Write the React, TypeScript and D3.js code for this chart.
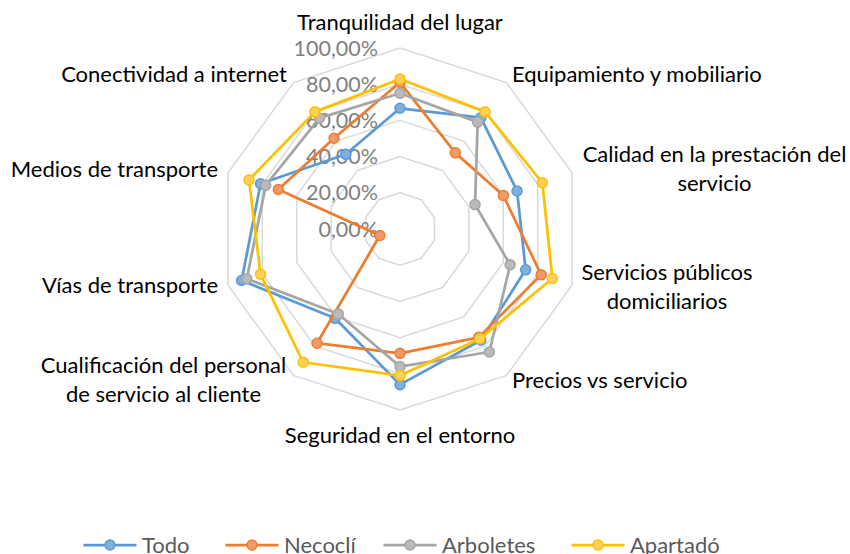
import React from "react";
import * as d3 from "d3";

const categories = [
  "Tranquilidad del lugar",
  "Equipamiento y mobiliario",
  "Calidad en la prestación del servicio",
  "Servicios públicos domiciliarios",
  "Precios vs servicio",
  "Seguridad en el entorno",
  "Cualificación del personal de servicio al cliente",
  "Vías de transporte",
  "Medios de transporte",
  "Conectividad a internet",
];

const seriesNames = ["Todo", "Necoclí", "Arboletes", "Apartadó"];
const todo = [0.667, 0.76, 0.68, 0.73, 0.76, 0.86, 0.61, 0.92, 0.81, 0.51];
const necocli = [0.81, 0.52, 0.60, 0.82, 0.74, 0.687, 0.78, 0.117, 0.707, 0.62];
const arboletes = [0.75, 0.73, 0.436, 0.64, 0.84, 0.76, 0.58, 0.89, 0.78, 0.757];
const apartado = [0.829, 0.80, 0.827, 0.885, 0.75, 0.81, 0.91, 0.81, 0.877, 0.80];
const tickValues = [0, 0.2, 0.4, 0.6, 0.8, 1.0];
const tickLabels = ["0,00%", "20,00%", "40,00%", "60,00%", "80,00%", "100,00%"];

const colors = ["#5B9BD5", "#ED7D31", "#A5A5A5", "#FFC000"];
const fills = ["#7FAFDD", "#F19A67", "#BABABA", "#FFD05A"];

const labelLines: string[][] = [
  ["Tranquilidad del lugar"],
  ["Equipamiento y mobiliario"],
  ["Calidad en la prestación del", "servicio"],
  ["Servicios públicos", "domiciliarios"],
  ["Precios vs servicio"],
  ["Seguridad en el entorno"],
  ["Cualificación del personal", "de servicio al cliente"],
  ["Vías de transporte"],
  ["Medios de transporte"],
  ["Conectividad a internet"],
];

export default function App() {
  const W = 850, H = 554;
  const cx = 400, cy = 229, R = 181;
  const r = d3.scaleLinear().domain([0, 1]).range([0, R]);
  const n = categories.length;
  const angle = (i: number) => (i * 2 * Math.PI) / n;
  const pt = (i: number, v: number): [number, number] => [
    cx + Math.sin(angle(i)) * r(v),
    cy - Math.cos(angle(i)) * r(v),
  ];
  const lineGen = d3.line<[number, number]>().curve(d3.curveLinearClosed);
  const data = [todo, necocli, arboletes, apartado];
  const font = "Lato, 'Open Sans', sans-serif";

  const labelPos: [number, number, string][] = [
    [400, 30, "middle"],
    [512, 82, "start"],
    [714.5, 162, "middle"],
    [667, 280, "middle"],
    [512, 388, "start"],
    [400, 443, "middle"],
    [163.5, 373, "middle"],
    [218, 293, "end"],
    [218, 177, "end"],
    [287, 82, "end"],
  ];

  const legendX = [110, 252, 410, 598];

  return (
    <svg width={W} height={H} style={{ display: "block", position: "absolute", left: 0, top: 0 }}>
      <rect width={W} height={H} fill="#fff" />
      {tickValues.slice(1).map((t) => (
        <path
          key={t}
          d={lineGen(d3.range(n).map((i) => pt(i, t))) || ""}
          fill="none"
          stroke="#D9D9D9"
          strokeWidth={1.5}
        />
      ))}
      {tickValues.map((t, k) => (
        <text
          key={t}
          x={378}
          y={cy - r(t)}
          dy="0.35em"
          textAnchor="end"
          fontFamily={font}
          fontSize={21.5}
          fill="#7F7F7F"
        >
          {tickLabels[k]}
        </text>
      ))}
      {data.map((vals, s) => {
        const pts = vals.map((v, i) => pt(i, v));
        return (
          <g key={s}>
            <path d={lineGen(pts) || ""} fill="none" stroke={colors[s]} strokeWidth={2.75} strokeLinejoin="round" />
            {pts.map((p, i) => (
              <circle key={i} cx={p[0]} cy={p[1]} r={5} fill={fills[s]} stroke={colors[s]} strokeWidth={1.5} />
            ))}
          </g>
        );
      })}
      {labelLines.map((lines, i) => (
        <text
          key={i}
          x={labelPos[i][0]}
          y={labelPos[i][1]}
          textAnchor={labelPos[i][2] as any}
          fontFamily={font}
          fontSize={22}
          fill="#000"
        >
          {lines.map((l, j) => (
            <tspan key={j} x={labelPos[i][0]} dy={j === 0 ? 0 : 28.5}>
              {l}
            </tspan>
          ))}
        </text>
      ))}
      {seriesNames.map((name, s) => (
        <g key={name} transform={`translate(${legendX[s]},545)`}>
          <line x1={-26.5} x2={26.5} y1={0} y2={0} stroke={colors[s]} strokeWidth={2.75} />
          <circle cx={0} cy={0} r={5} fill={fills[s]} stroke={colors[s]} strokeWidth={1.5} />
          <text x={32} y={0} dy="0.35em" fontFamily={font} fontSize={22} fill="#595959">
            {name}
          </text>
        </g>
      ))}
    </svg>
  );
}
